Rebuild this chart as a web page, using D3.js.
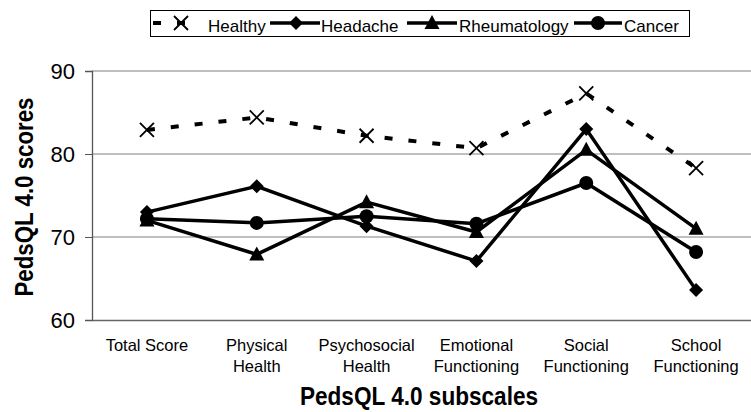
<!DOCTYPE html>
<html>
<head>
<meta charset="utf-8">
<script src="https://cdn.jsdelivr.net/npm/d3@7"></script>
<style>
  body { margin: 0; background: #fff; }
  text { font-family: "Liberation Sans", Arial, sans-serif; fill: #000; }
</style>
</head>
<body>
<div id="chart"></div>
<script>
// subscales along the x axis (two text lines each)
var categories = [
    ["Total Score"],
    ["Physical", "Health"],
    ["Psychosocial", "Health"],
    ["Emotional", "Functioning"],
    ["Social", "Functioning"],
    ["School", "Functioning"]
];
var seriesNames = ["Healthy", "Headache", "Rheumatology", "Cancer"];
var healthy = [82.9, 84.4, 82.2, 80.7, 87.3, 78.3];
var headache = [73.0, 76.1, 71.3, 67.1, 83.0, 63.6];
var rheumatology = [72.0, 67.9, 74.2, 70.6, 80.5, 71.0];
var cancer = [72.2, 71.7, 72.5, 71.6, 76.5, 68.2];
var yTicks = [60, 70, 80, 90];

var width = 751, height = 412;
var margin = {left: 92, right: 0, top: 71, bottom: 92};

var svg = d3.select("#chart").append("svg")
    .attr("width", width)
    .attr("height", height);

var x = d3.scaleBand()
    .domain(d3.range(categories.length))
    .range([margin.left, width - margin.right]);

var y = d3.scaleLinear()
    .domain([60, 90])
    .range([height - margin.bottom, margin.top]);

// gridlines
svg.append("g").selectAll("line")
    .data(yTicks.slice(1))
    .enter().append("line")
    .attr("x1", margin.left)
    .attr("x2", width)
    .attr("y1", function (d) { return y(d); })
    .attr("y2", function (d) { return y(d); })
    .style("stroke", "#808080")
    .style("stroke-width", 1.2);

// y axis
var yAxis = svg.append("g")
    .attr("transform", "translate(" + margin.left + ",0)")
    .call(d3.axisLeft(y).tickValues(yTicks).tickSize(7).tickPadding(5));
yAxis.select(".domain").style("stroke", "#555").style("stroke-width", 1.3);
yAxis.selectAll(".tick line").style("stroke", "#555");
yAxis.selectAll("text")
    .style("font-size", "22px")
    .attr("dx", "-5px");

// x axis line
var xAxis = svg.append("g")
    .attr("transform", "translate(0," + y(60) + ")")
    .call(d3.axisBottom(x).tickSize(0).tickFormat(""));
xAxis.select(".domain").style("stroke", "#666").style("stroke-width", 1.3);

// category labels
var catLabels = svg.append("g").selectAll("text")
    .data(categories)
    .enter().append("text")
    .attr("x", function (d, i) { return x(i) + x.bandwidth() / 2; })
    .attr("y", 351)
    .attr("text-anchor", "middle")
    .style("font-size", "16.5px");
catLabels.selectAll("tspan")
    .data(function (d) { return d; })
    .enter().append("tspan")
    .attr("x", function () { return this.parentNode.getAttribute("x"); })
    .attr("dy", function (d, i) { return i === 0 ? 0 : 21; })
    .text(function (d) { return d; });

// axis titles
svg.append("text")
    .attr("transform", "translate(419,405) scale(1,1.12)")
    .attr("text-anchor", "middle")
    .style("font-size", "22.6px")
    .style("font-weight", "bold")
    .text("PedsQL 4.0 subscales");

svg.append("text")
    .attr("transform", "translate(33,197) rotate(-90) scale(1,1.12)")
    .attr("text-anchor", "middle")
    .style("font-size", "22.3px")
    .style("font-weight", "bold")
    .text("PedsQL 4.0 scores");

// marker drawing
var markers = {
    Healthy: function (g, cx, cy) {
        var s = 7;
        g.append("path")
            .attr("d", "M" + (cx - s) + "," + (cy - s) + "L" + (cx + s) + "," + (cy + s) +
                "M" + (cx - s) + "," + (cy + s) + "L" + (cx + s) + "," + (cy - s))
            .style("stroke", "#000").style("stroke-width", 1.8).style("fill", "none");
    },
    Headache: function (g, cx, cy) {
        g.append("path")
            .attr("transform", "translate(" + cx + "," + cy + ")")
            .attr("d", "M0,-7L7,0L0,7L-7,0Z")
            .style("fill", "#000");
    },
    Rheumatology: function (g, cx, cy) {
        g.append("path")
            .attr("transform", "translate(" + cx + "," + cy + ")")
            .attr("d", "M0,-8L7.5,6L-7.5,6Z")
            .style("fill", "#000");
    },
    Cancer: function (g, cx, cy) {
        g.append("circle")
            .attr("cx", cx).attr("cy", cy).attr("r", 7)
            .style("fill", "#000");
    }
};

var seriesData = [healthy, headache, rheumatology, cancer];
var line = d3.line()
    .x(function (d, i) { return x(i) + x.bandwidth() / 2; })
    .y(function (d) { return y(d); });

seriesData.forEach(function (vals, k) {
    var name = seriesNames[k];
    var g = svg.append("g");
    g.append("path")
        .datum(vals)
        .attr("d", line)
        .style("fill", "none")
        .style("stroke", "#000")
        .style("stroke-width", name === "Healthy" ? 4 : 3.5)
        .style("stroke-dasharray", name === "Healthy" ? "8,16" : null);
    vals.forEach(function (v, i) {
        markers[name](g, x(i) + x.bandwidth() / 2, y(v));
    });
});

// legend
var legend = svg.append("g");
legend.append("rect")
    .attr("x", 150.5).attr("y", 10.5)
    .attr("width", 539).attr("height", 26)
    .style("fill", "#fff")
    .style("stroke", "#000")
    .style("stroke-width", 1);

var legendItems = [
    {name: "Healthy", x0: 153, x1: 186, mx: 181, tx: 208},
    {name: "Headache", x0: 270, x1: 320, mx: 296, tx: 321},
    {name: "Rheumatology", x0: 407, x1: 457, mx: 432, tx: 459},
    {name: "Cancer", x0: 574, x1: 622, mx: 598, tx: 624}
];
legendItems.forEach(function (it) {
    var ly = 23;
    legend.append("line")
        .attr("x1", it.x0).attr("x2", it.x1)
        .attr("y1", ly).attr("y2", ly)
        .style("stroke", "#000")
        .style("stroke-width", it.name === "Healthy" ? 4 : 3.5)
        .style("stroke-dasharray", it.name === "Healthy" ? "8,16" : null);
    var mg = legend.append("g");
    markers[it.name](mg, it.mx, ly);
    legend.append("text")
        .attr("x", it.tx).attr("y", 31.5)
        .style("font-size", "17px")
        .text(it.name);
});
</script>
</body>
</html>
